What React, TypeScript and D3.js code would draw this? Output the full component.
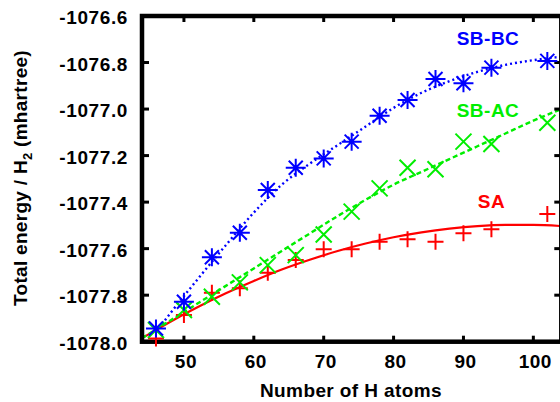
import React from "react";
import * as d3 from "d3";

const hAtoms = [46, 50, 54, 58, 62, 66, 70, 74, 78, 82, 86, 90, 94, 102];
const sbbc = [-1077.943, -1077.828, -1077.637, -1077.532, -1077.348, -1077.252, -1077.212, -1077.14, -1077.029, -1076.961, -1076.871, -1076.889, -1076.822, -1076.793];
const sbac = [-1077.95, -1077.864, -1077.807, -1077.745, -1077.671, -1077.628, -1077.539, -1077.441, -1077.341, -1077.252, -1077.259, -1077.14, -1077.15, -1077.059];
const sa = [-1077.986, -1077.885, -1077.79, -1077.77, -1077.704, -1077.649, -1077.603, -1077.603, -1077.57, -1077.56, -1077.57, -1077.534, -1077.517, -1077.451];

const fitX = [44, 48, 52, 56, 60, 64, 68, 72, 76, 80, 84, 88, 92, 96, 100, 104];
const fitSA = [-1077.985, -1077.915, -1077.851, -1077.792, -1077.739, -1077.69, -1077.648, -1077.61, -1077.578, -1077.551, -1077.53, -1077.514, -1077.503, -1077.498, -1077.498, -1077.503];
const fitSBAC = [-1077.985, -1077.91, -1077.835, -1077.76, -1077.685, -1077.61, -1077.535, -1077.46, -1077.39, -1077.325, -1077.27, -1077.215, -1077.16, -1077.105, -1077.05, -1077.0];
const fitXBC = [46, 48, 52, 56, 60, 64, 68, 72, 76, 80, 84, 88, 92, 96, 100, 104];
const fitSBBC = [-1077.96, -1077.88, -1077.73, -1077.585, -1077.445, -1077.325, -1077.235, -1077.155, -1077.075, -1076.995, -1076.93, -1076.88, -1076.84, -1076.81, -1076.79, -1076.775];

const xTicks = [50, 60, 70, 80, 90, 100];
const yTicks = [-1076.6, -1076.8, -1077.0, -1077.2, -1077.4, -1077.6, -1077.8, -1078.0];

const L = 142, R = 561.3, T = 16, B = 341.7;
const FONT = "'Liberation Sans', Arial, Helvetica, sans-serif";

export default function App() {
  const x = d3.scaleLinear().domain([44, 104]).range([L, R]);
  const y = d3.scaleLinear().domain([-1078.0, -1076.6]).range([B, T]);
  const line = d3
    .line<[number, number]>()
    .x((d) => x(d[0]))
    .y((d) => y(d[1]))
    .curve(d3.curveMonotoneX);
  const pts = (xs: number[], ys: number[]) => xs.map((v, i) => [v, ys[i]] as [number, number]);

  const star = "M0,-9V9M-10,0H10M-7,-7L7,7M-7,7L7,-7";
  const cross = "M-8,-8L8,8M-8,8L8,-8";
  const plus = "M0,-8V8M-8,0H8";

  const series = [
    { xs: hAtoms, ys: sa, d: plus, color: "#ff0000" },
    { xs: hAtoms, ys: sbac, d: cross, color: "#00ee00" },
    { xs: hAtoms, ys: sbbc, d: star, color: "#0000ff" },
  ];

  return (
    <div style={{ position: "absolute", left: 0, top: 0 }}>
      <svg width={560} height={402} style={{ display: "block", background: "#fff" }}>
        <defs>
          <clipPath id="plotclip">
            <rect x={L} y={T} width={R - L} height={B - T} />
          </clipPath>
        </defs>
        <g clipPath="url(#plotclip)">
          <path d={line(pts(fitX, fitSA)) || ""} fill="none" stroke="#ff0000" strokeWidth={2.2} />
          <path d={line(pts(fitX, fitSBAC)) || ""} fill="none" stroke="#00ee00" strokeWidth={2.4} strokeDasharray="5,3" />
          <path d={line(pts(fitXBC, fitSBBC)) || ""} fill="none" stroke="#0000ff" strokeWidth={2.4} strokeDasharray="2,3" />
        </g>
        {/* ticks */}
        {xTicks.map((t) => (
          <g key={"xt" + t}>
            <line x1={x(t)} x2={x(t)} y1={B} y2={B - 6} stroke="#000" strokeWidth={3} />
            <line x1={x(t)} x2={x(t)} y1={T} y2={T + 6} stroke="#000" strokeWidth={3} />
            <text x={x(t) + 2} y={368} textAnchor="middle" fontFamily={FONT} fontWeight="bold" fontSize={19} letterSpacing={0.5}>
              {t}
            </text>
          </g>
        ))}
        {yTicks.map((t) => (
          <g key={"yt" + t}>
            <line x1={L} x2={L + 7} y1={y(t)} y2={y(t)} stroke="#000" strokeWidth={3} />
            <line x1={R} x2={R - 7} y1={y(t)} y2={y(t)} stroke="#000" strokeWidth={3} />
            <text x={128} y={y(t) + 8} textAnchor="end" fontFamily={FONT} fontWeight="bold" fontSize={19} letterSpacing={0.6}>
              {t.toFixed(1)}
            </text>
          </g>
        ))}
        <rect x={L} y={T} width={R - L} height={B - T} fill="none" stroke="#000" strokeWidth={4.5} />
        {series.map((s, si) =>
          s.xs.map((v, i) => (
            <path
              key={si + "-" + i}
              d={s.d}
              transform={`translate(${x(v)},${y(s.ys[i])})`}
              fill="none"
              stroke={s.color}
              strokeWidth={2}
            />
          ))
        )}
        {/* series labels */}
        <text x={488} y={45} textAnchor="middle" fontFamily={FONT} fontWeight="bold" fontSize={19} letterSpacing={0.5} fill="#0000ff">
          SB-BC
        </text>
        <text x={488} y={117} textAnchor="middle" fontFamily={FONT} fontWeight="bold" fontSize={19} letterSpacing={0.5} fill="#00ee00">
          SB-AC
        </text>
        <text x={491.5} y={208} textAnchor="middle" fontFamily={FONT} fontWeight="bold" fontSize={19} letterSpacing={0.5} fill="#ff0000">
          SA
        </text>
        {/* axis titles */}
        <text x={351} y={397} textAnchor="middle" fontFamily={FONT} fontWeight="bold" fontSize={19} letterSpacing={0.4}>
          Number of H atoms
        </text>
        <text
          transform="translate(27,178) rotate(-90)"
          textAnchor="middle"
          fontFamily={FONT}
          fontWeight="bold"
          fontSize={19}
          letterSpacing={0.3}
        >
          Total energy / H<tspan fontSize={13} dy={5}>2</tspan>
          <tspan dy={-5}> (mhartree)</tspan>
        </text>
      </svg>
    </div>
  );
}
